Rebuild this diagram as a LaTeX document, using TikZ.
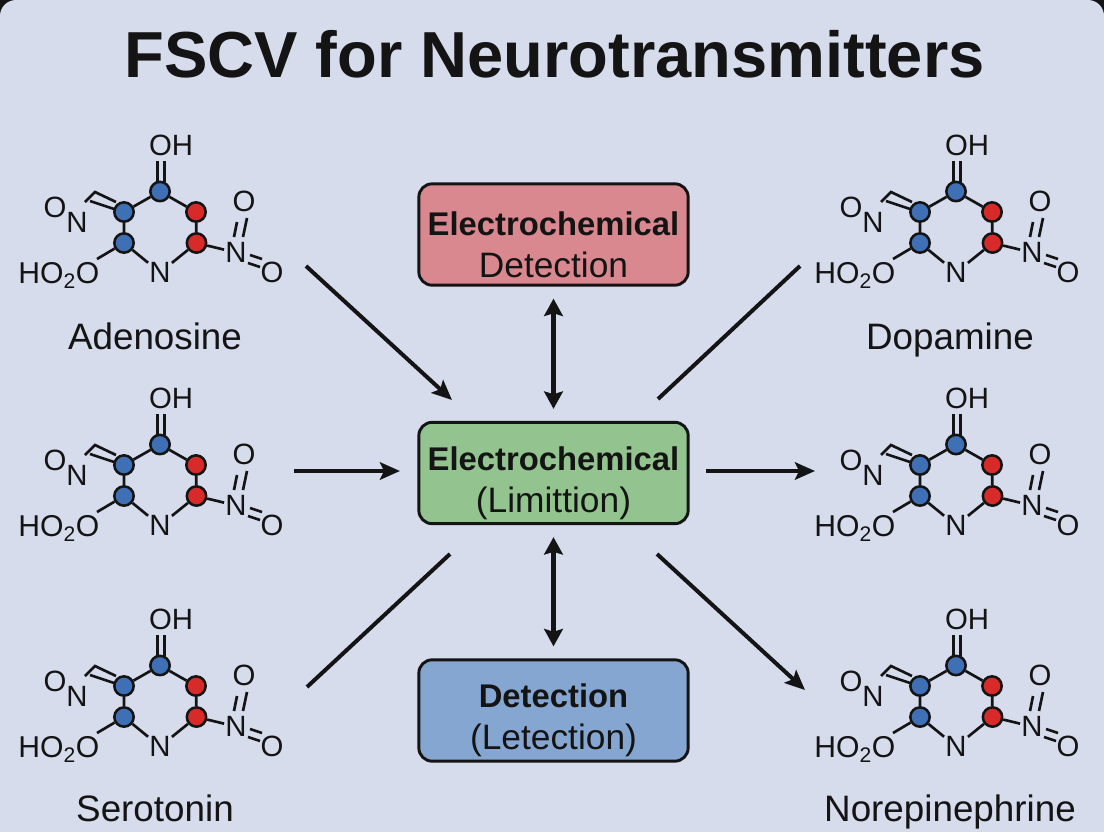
\documentclass[tikz,border=0pt]{standalone}
\usepackage{fontspec}
\usepackage{amsmath}
\setmainfont{Liberation Sans}
\usetikzlibrary{arrows.meta}
\definecolor{paper}{HTML}{D6DCEC}
\definecolor{redbox}{HTML}{D9888F}
\definecolor{greenbox}{HTML}{93C48F}
\definecolor{bluebox}{HTML}{86A6D2}
\definecolor{atomblue}{HTML}{3F6FB5}
\definecolor{atomred}{HTML}{D92A2A}
\definecolor{ink}{HTML}{141414}
\newcommand{\boxtext}[2]{\rule{0pt}{33pt}\textbf{#1}\\{\fontsize{26.5}{31.5}\selectfont #2}}
\tikzset{
  box/.style={draw=ink,line width=2.2pt,rounded corners=10pt,minimum width=202pt,minimum height=76pt,align=center,font=\fontsize{24.6}{31.5}\selectfont,text=ink,inner sep=0pt},
  atom/.style={circle,draw=ink,line width=1.9pt,minimum size=14.5pt,inner sep=0pt},
  txt/.style={inner sep=0pt,outer sep=1pt,text=ink,font=\fontsize{22}{22}\selectfont},
  molname/.style={inner sep=0pt,anchor=base,text=ink,font=\fontsize{27.6}{27.6}\selectfont},
  bond/.style={draw=ink,line width=2pt},
  flow/.style={draw=ink,line width=3pt,-{Stealth[length=15pt,width=13pt,inset=3pt]}},
  plain/.style={draw=ink,line width=3pt},
  both/.style={draw=ink,line width=4.3pt,{Stealth[length=13pt,width=14pt,inset=2pt]}-{Stealth[length=13pt,width=14pt,inset=2pt]},shorten <=9pt,shorten >=9pt},
  molecule/.pic={
    % ring
    \node[atom,fill=atomblue] (top) at (160,191.5) {};
    \node[atom,fill=atomblue] (lu) at (124,212) {};
    \node[atom,fill=atomblue] (ld) at (124,243) {};
    \node[atom,fill=atomred] (ru) at (196,212) {};
    \node[atom,fill=atomred] (rd) at (196.5,243) {};
    \node[txt] (n) at (160,272.5) {N};
    \draw[bond] (top) -- (lu) (lu) -- (ld) (ld) -- (n) (n) -- (rd) (rd) -- (ru) (ru) -- (top);
    % groups
    \node[txt] (oh) at (171,145.5) {OH};
    \draw[bond] (157.5,161) -- (157.5,182) (164.5,161) -- (164.5,182);
    \node[txt,anchor=base west,font=\fontsize{22.6}{22.6}\selectfont] (ho) at (17,283) {HO$_{\text{2}}$O};
    \draw[bond] (ld) -- (97,259);
    \node[txt] (ol) at (55,207) {O};
    \node[txt] (nl) at (77,222) {N};
    \draw[bond] (85,202) -- (95,192) -- (116,202) (90,201) -- (114,209);
    \node[txt] (or) at (244,201) {O};
    \node[txt] (nr) at (236,252.5) {N};
    \node[txt] (oo) at (272,272) {O};
    \draw[bond] (rd) -- (nr);
    \draw[bond] (237,222) -- (234,237) (247,218) -- (243,237);
    \draw[bond] (250,255) -- (262,259) (248,263) -- (260,267);
  }
}
\begin{document}
\begin{tikzpicture}[x=0.75pt,y=-0.75pt]
  \fill[ink] (0,0) rectangle (1104,832);
  \useasboundingbox (0,0) rectangle (1104,832);
  \fill[paper] (0,832) -- (0,60) [rounded corners=12pt] -- (0,0) -- (1104,0) [sharp corners] -- (1104,60) -- (1104,832) -- cycle;
  % title
  \node[inner sep=0pt,text=ink,font=\fontsize{48.8}{48.8}\selectfont\bfseries] (title) at (554.5,54) {FSCV for Neurotransmitters};
  % molecules
  \foreach \nm/\dx/\dy in {a/0/0,b/796/0,c/0/253,d/796/253,e/0/474,f/796/474}
    \pic[name prefix=\nm] at (\dx,\dy) {molecule};
  \node[molname] (adenosine) at (155,349) {Adenosine};
  \node[molname] (dopamine) at (950,349) {Dopamine};
  \node[molname] (serotonin) at (155,821) {Serotonin};
  \node[molname] (norepinephrine) at (950,821) {Norepinephrine};
  % boxes
  \node[box,fill=redbox] (red) at (553.5,234.5) {\boxtext{Electrochemical}{Detection}};
  \node[box,fill=greenbox] (green) at (553.5,473) {\boxtext{Electrochemical}{(Limittion)}};
  \node[box,fill=bluebox] (blue) at (553.5,710.5) {\boxtext{Detection}{(Letection)}};
  % free ends
  \coordinate (p1) at (306,266);
  \coordinate (p2) at (452,400);
  \coordinate (p3) at (800,266);
  \coordinate (p4) at (658,399);
  \coordinate (p5) at (294,471);
  \coordinate (p6) at (400,471);
  \coordinate (p7) at (706,471);
  \coordinate (p8) at (815,471);
  \coordinate (p9) at (450,554);
  \coordinate (p10) at (307,687);
  \coordinate (p11) at (657,554);
  \coordinate (p12) at (805,690);
  % arrows
  \draw[flow] (p1) -- (p2);
  \draw[plain] (p3) -- (p4);
  \draw[flow] (p5) -- (p6);
  \draw[flow] (p7) -- (p8);
  \draw[plain] (p9) -- (p10);
  \draw[flow] (p11) -- (p12);
  \draw[both] (red) -- (green);
  \draw[both] (green) -- (blue);
\end{tikzpicture}
\end{document}
